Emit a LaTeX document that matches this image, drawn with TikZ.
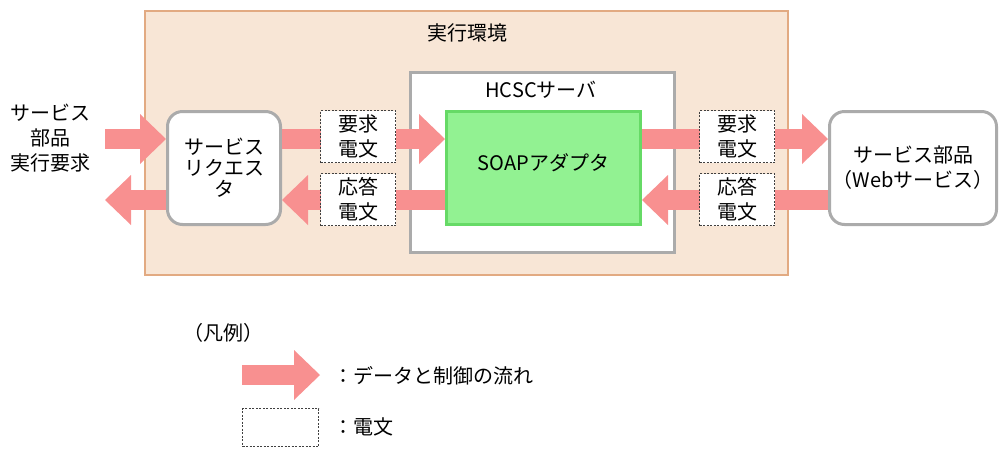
\documentclass[tikz,border=0pt]{standalone}
\usepackage{fontspec}
\setmainfont{Noto Sans CJK JP}
\usetikzlibrary{arrows.meta}
\definecolor{envfill}{HTML}{F8E6D6}
\definecolor{envline}{HTML}{E2AA82}
\definecolor{boxgray}{HTML}{ABABAB}
\definecolor{soapfill}{HTML}{92F292}
\definecolor{soapline}{HTML}{66DA66}
\definecolor{flowred}{HTML}{F89090}
\newcommand{\jfont}{\fontsize{20}{25}\selectfont}
\begin{document}
\begin{tikzpicture}[
    x=1pt, y=-1pt,
    txt/.style={font=\jfont, align=center, inner sep=0pt},
    box/.style={txt, draw=boxgray, line width=3pt, fill=white},
    rbox/.style={box, rounded corners=15pt, minimum height=113pt},
    msg/.style={txt, draw=black!75, line width=0.8pt,
                dash pattern=on 2pt off 1.5pt, fill=white,
                minimum width=75pt, minimum height=52pt},
    flow/.style={draw=flowred, line width=20pt,
                 -{Triangle[length=26pt, width=50pt, line width=0pt]}}
  ]
  \useasboundingbox (0,0) rectangle (1000,448);
  % execution environment
  \node[draw=envline, fill=envfill, line width=1.5pt,
        minimum width=643pt, minimum height=264pt] (env) at (466.5,143) {};
  \node[txt] (envtitle) at (467,33) {実行環境};
  % HCSC server and SOAP adapter
  \node[box, minimum width=264pt, minimum height=180pt] (srv) at (542.5,162.5) {};
  \node[txt] (srvtitle) at (541,90) {HCSCサーバ};
  \node[box, draw=soapline, fill=soapfill, minimum width=194pt,
        minimum height=113pt] (soap) at (543.5,168) {};
  \node[txt] (soaptxt) at (543.5,163) {SOAPアダプタ};
  % requester and component
  \node[rbox, minimum width=113pt, font=\fontsize{20}{21}\selectfont]
    (req) at (224,168) {サービス\\リクエス\\タ};
  \node[rbox, minimum width=167pt] (comp) at (913,168) {サービス部品\\（Webサービス）};
  \node[txt] (caller) at (50,138) {サービス\\部品\\実行要求};
  % flows
  \coordinate (in) at (105,139);
  \coordinate (out) at (105,200);
  \draw[flow] (in) -- (in -| req.west);
  \draw[flow] (in -| req.east) -- (in -| soap.west);
  \draw[flow] (in -| soap.east) -- (in -| comp.west);
  \draw[flow] (out -| comp.west) -- (out -| soap.east);
  \draw[flow] (out -| soap.west) -- (out -| req.east);
  \draw[flow] (out -| req.west) -- (out);
  % messages
  \foreach \n/\x/\y/\lbl in {rq1/358/136.5/要求, rs1/358/199.5/応答,
                             rq2/737/136.5/要求, rs2/737/199.5/応答} {
    \node[msg] (\n) at (\x,\y) {\lbl\\電文};
  }
  % legend
  \node[txt] (lgtitle) at (223,333) {（凡例）};
  \coordinate (lgs) at (242,375);
  \coordinate (lge) at (320,375);
  \draw[flow] (lgs) -- (lge);
  \node[txt, anchor=west] (lgflow) at (333,376) {：データと制御の流れ};
  \node[msg, minimum width=76pt, minimum height=38pt] (lgmsg) at (280.5,427.5) {};
  \node[txt, anchor=west] (lgmsgtxt) at (333,427) {：電文};
\end{tikzpicture}
\end{document}
